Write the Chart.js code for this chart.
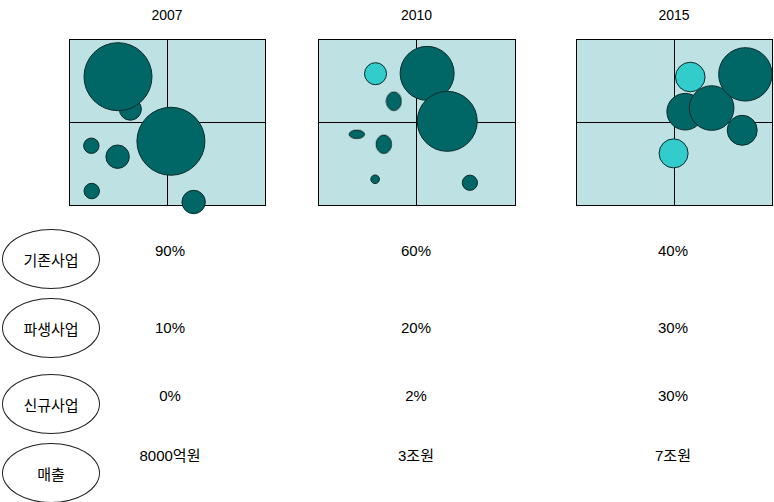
<!DOCTYPE html>
<html lang="ko">
<head>
<meta charset="utf-8">
<title>사업 포트폴리오 2007-2015</title>
<script src="https://cdn.jsdelivr.net/npm/chart.js@4.4.1/dist/chart.umd.min.js"></script>
<style>
  html, body { margin: 0; padding: 0; background: #fff; overflow: hidden; }
  #page { position: relative; width: 774px; height: 502px; font-family: "Liberation Sans", Arial, "Noto Sans CJK KR", sans-serif; color: #000; }
  .panel { position: absolute; }
  .year { position: absolute; top: 7px; width: 80px; margin-left: -40px; text-align: center; font-size: 14px; }
  .oval { position: absolute; left: 2px; width: 96px; height: 58px; border: 1px solid #222; border-radius: 50%;
          display: flex; align-items: center; justify-content: center; font-family: "Noto Sans CJK KR", sans-serif; font-size: 15px; }
  .val { position: absolute; width: 120px; margin-left: -60px; text-align: center; font-size: 15px; line-height: 18px; }
</style>
</head>
<body>
<div id="page"></div>

<script>
// ================= DATA =================
const years = ["2007", "2010", "2015"];
const rowLabels = ["기존사업", "파생사업", "신규사업", "매출"];
const existingShare = ["90%", "60%", "40%"];
const derivedShare = ["10%", "20%", "30%"];
const newShare = ["0%", "2%", "30%"];
const sales = ["8000억원", "3조원", "7조원"];

// bubbles: x / y on a 0-100 grid (50 = quadrant line), r in px
// kind "e" = existing/derived business, "n" = new business
// oval bubbles carry rx / ry instead of a single r
const bubbles2007 = [
  { x: 31.3, y: 57.7, r: 11, kind: "e" },
  { x: 25.0, y: 77.3, r: 34, kind: "e" },
  { x: 52.0, y: 38.4, r: 34, kind: "e" },
  { x: 11.4, y: 35.7, r: 7.7, kind: "e" },
  { x: 24.8, y: 29.1, r: 11.7, kind: "e" },
  { x: 11.6, y: 8.4, r: 7.7, kind: "e" },
  { x: 63.6, y: 1.8, r: 11.7, kind: "e" }
];
const bubbles2010 = [
  { x: 29.2, y: 79.1, r: 11, kind: "n" },
  { x: 55.4, y: 79.3, r: 27, kind: "e" },
  { x: 65.6, y: 50.4, r: 30, kind: "e" },
  { x: 38.5, y: 62.5, r: 9.3, rx: 7.5, ry: 9.3, kind: "e" },
  { x: 19.7, y: 42.6, r: 7.7, rx: 7.7, ry: 4.2, kind: "e" },
  { x: 33.4, y: 36.6, r: 9.2, rx: 7.7, ry: 9.2, kind: "e" },
  { x: 29.0, y: 15.5, r: 4.3, kind: "e" },
  { x: 77.1, y: 13.4, r: 7.6, kind: "e" }
];
const bubbles2015 = [
  { x: 58.3, y: 77.1, r: 14.8, kind: "n" },
  { x: 55.7, y: 56.2, r: 18.3, kind: "e" },
  { x: 69.2, y: 58.4, r: 22.3, kind: "e" },
  { x: 86.4, y: 78.7, r: 26.7, kind: "e" },
  { x: 84.8, y: 45.0, r: 15, kind: "e" },
  { x: 49.8, y: 31.1, r: 14.5, kind: "n" }
];
const bubbleSets = [bubbles2007, bubbles2010, bubbles2015];

// ================= STYLE =================
const PANEL_BG = "#bee1e4";
const DARK = "#006666";
const LIGHT = "#33cccc";
const EDGE = "#0a2a2a";
const PAD = 20;
const panelLeft = [69, 318, 576];
const panelW = [196, 197, 196];
const panelTop = 39;
const panelH = 166;
const colX = [170, 416, 673];
const rowY = [251, 328, 396, 456];
const ovalY = [229, 298, 374, 443];

const page = document.getElementById("page");

// ================= PANEL BACKGROUND =================
const panelBg = {
  id: "panelBg",
  beforeDraw(chart) {
    const a = chart.chartArea;
    const ctx = chart.ctx;
    ctx.save();
    ctx.fillStyle = PANEL_BG;
    ctx.fillRect(a.left, a.top, a.right - a.left, a.bottom - a.top);
    ctx.restore();
  }
};

function ovalImage(rx, ry, fill) {
  const c = document.createElement("canvas");
  c.width = Math.ceil(rx * 2 + 2);
  c.height = Math.ceil(ry * 2 + 2);
  const g = c.getContext("2d");
  g.beginPath();
  g.ellipse(c.width / 2, c.height / 2, rx, ry, 0, 0, Math.PI * 2);
  g.fillStyle = fill;
  g.fill();
  g.lineWidth = 1;
  g.strokeStyle = EDGE;
  g.stroke();
  return c;
}

const axis = {
  type: "linear",
  min: 0,
  max: 100,
  ticks: { display: false, stepSize: 50 },
  grid: { color: "#000", lineWidth: 1, drawTicks: false },
  border: { color: "#000", width: 1 }
};

// ================= CHARTS =================
years.forEach((year, i) => {
  const title = document.createElement("div");
  title.className = "year";
  title.style.left = (panelLeft[i] + panelW[i] / 2) + "px";
  title.textContent = year;
  page.appendChild(title);

  const canvas = document.createElement("canvas");
  canvas.className = "panel";
  canvas.width = panelW[i] + PAD * 2;
  canvas.height = panelH + PAD * 2;
  canvas.style.left = (panelLeft[i] - PAD) + "px";
  canvas.style.top = (panelTop - PAD) + "px";
  page.appendChild(canvas);

  new Chart(canvas, {
    type: "bubble",
    data: {
      datasets: [{
        data: bubbleSets[i],
        clip: false,
        backgroundColor: c => (c.raw && c.raw.kind === "n" ? LIGHT : DARK),
        borderColor: EDGE,
        borderWidth: 1,
        hoverRadius: 0,
        pointStyle: c => {
          const d = c.raw;
          if (d && d.rx) return ovalImage(d.rx, d.ry, d.kind === "n" ? LIGHT : DARK);
          return "circle";
        }
      }]
    },
    options: {
      responsive: false,
      animation: false,
      events: [],
      layout: { padding: PAD, autoPadding: false },
      plugins: { legend: { display: false }, tooltip: { enabled: false } },
      scales: { x: { ...axis }, y: { ...axis } }
    },
    plugins: [panelBg]
  });
});

// ================= TABLE =================
rowLabels.forEach((label, r) => {
  const oval = document.createElement("div");
  oval.className = "oval";
  oval.style.top = ovalY[r] + "px";
  oval.textContent = label;
  page.appendChild(oval);
});

[existingShare, derivedShare, newShare, sales].forEach((row, r) => {
  row.forEach((txt, i) => {
    const d = document.createElement("div");
    d.className = "val";
    d.style.left = colX[i] + "px";
    d.style.top = (rowY[r] - 9) + "px";
    d.textContent = txt;
    page.appendChild(d);
  });
});
</script>
</body>
</html>
